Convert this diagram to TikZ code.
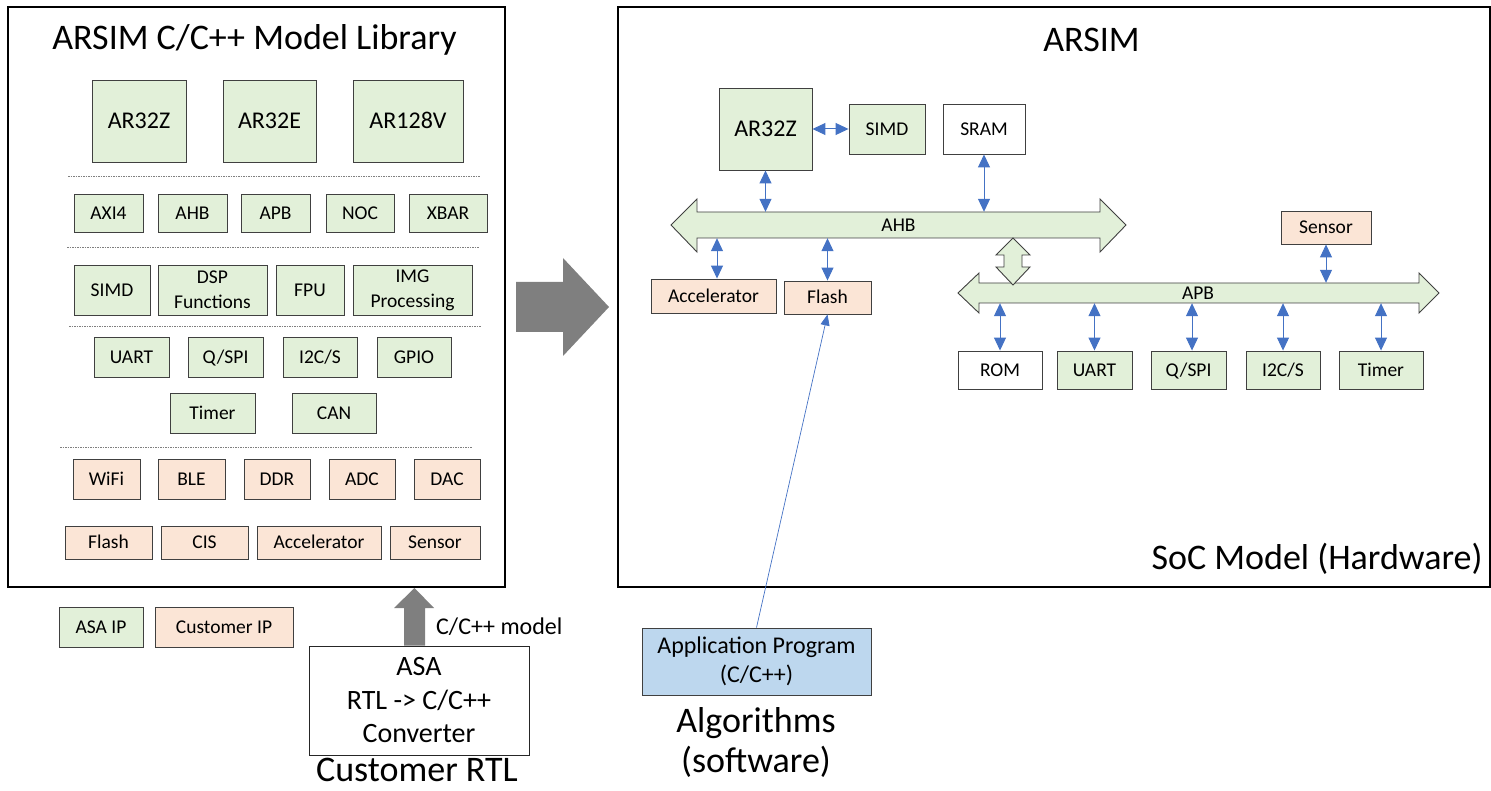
\documentclass[tikz,border=0pt]{standalone}
\usepackage{fontspec}
\setmainfont{Carlito}
\usetikzlibrary{arrows.meta,calc}
\definecolor{gfill}{HTML}{E2F0D9}
\definecolor{pfill}{HTML}{FBE5D6}
\definecolor{bfill}{HTML}{BDD7EE}
\definecolor{barrow}{HTML}{4472C4}
\definecolor{garrow}{HTML}{7F7F7F}
\definecolor{bord}{HTML}{404040}
\newcommand\mybox[7]{\node[#1, minimum width={(#5-#3)*1pt}, minimum height={(#6-#4)*1pt}] (#2) at ({(#3+#5)/2},{(#4+#6)/2}) {#7};}
\begin{document}
\begin{tikzpicture}[x=1pt,y=-1pt,
  boxb/.style={draw=bord, line width=0.9pt, inner sep=0pt, align=center, font=\fontsize{19.5}{25}\selectfont},
  oneline/.style={text height=12.6pt, text depth=0pt},
  gbox/.style={boxb, oneline, fill=gfill},
  pbox/.style={boxb, oneline, fill=pfill},
  wbox/.style={boxb, oneline, fill=white},
  gboxm/.style={boxb, fill=gfill},
  bigl/.style={font=\fontsize{24}{29}\selectfont, text height=15.5pt, text depth=0pt},
  busshape/.style={draw=bord, line width=0.9pt, fill=gfill},
  buslabel/.style={inner sep=0pt, font=\fontsize{19.5}{25}\selectfont, text height=12.6pt, text depth=0pt},
  conn/.style={draw=barrow, line width=1pt, arrows={Triangle[length=13pt,width=12pt]-Triangle[length=13pt,width=12pt]}},
  heading/.style={font=\fontsize{36}{40}\selectfont, inner sep=0pt, text height=23.2pt, text depth=0pt},
  dashsep/.style={draw=garrow, line width=0.7pt, dash pattern=on 1.5pt off 1pt},
  bigframe/.style={draw=black, line width=2pt, inner sep=0pt},
]
\useasboundingbox (0,0) rectangle (1491,791);

% ---------- left: model library ----------
\mybox{bigframe}{lib}{8}{7}{505}{587}{}
\node[heading] (libtitle) at (254.5,38) {ARSIM C/C++ Model Library};

\mybox{gbox,bigl}{lar32z}{92}{80}{186}{162}{AR32Z}
\mybox{gbox,bigl}{lar32e}{223}{80}{316}{162}{AR32E}
\mybox{gbox,bigl}{lar128v}{353}{80}{463}{162}{AR128V}
\draw[dashsep] (68,176) -- (480,176);

\mybox{gbox}{laxi}{74}{194}{143}{232}{AXI4}
\mybox{gbox}{lahb}{158}{194}{227}{232}{AHB}
\mybox{gbox}{lapb}{241}{194}{310}{232}{APB}
\mybox{gbox}{lnoc}{326}{194}{394}{232}{NOC}
\mybox{gbox}{lxbar}{409}{194}{487}{232}{XBAR}
\draw[dashsep] (67,247) -- (479,247);

\mybox{gbox}{lsimd}{74}{265}{150}{315}{SIMD}
\mybox{gboxm}{ldsp}{158}{265}{267}{315}{DSP\\Functions}
\mybox{gbox}{lfpu}{276}{265}{344}{315}{FPU}
\mybox{gboxm}{limg}{353}{265}{472}{315}{IMG\\Processing}
\draw[dashsep] (69,326) -- (481,326);

\mybox{gbox}{luart}{94}{337}{169}{377}{UART}
\mybox{gbox}{lqspi}{188}{337}{263}{377}{Q/SPI}
\mybox{gbox}{li2c}{283}{337}{357}{377}{I2C/S}
\mybox{gbox}{lgpio}{377}{337}{451}{377}{GPIO}
\mybox{gbox}{ltimer}{170}{393}{255}{433}{Timer}
\mybox{gbox}{lcan}{292}{393}{376}{433}{CAN}
\draw[dashsep] (60,447) -- (472,447);

\mybox{pbox}{lwifi}{73}{459}{140}{499}{WiFi}
\mybox{pbox}{lble}{158}{459}{225}{499}{BLE}
\mybox{pbox}{lddr}{244}{459}{310}{499}{DDR}
\mybox{pbox}{ladc}{329}{459}{395}{499}{ADC}
\mybox{pbox}{ldac}{414}{459}{480}{499}{DAC}

\mybox{pbox}{lflash}{65}{526}{152}{559}{Flash}
\mybox{pbox}{lcis}{161}{526}{248}{559}{CIS}
\mybox{pbox}{lacc}{257}{526}{381}{559}{Accelerator}
\mybox{pbox}{lsensor}{390}{526}{480}{559}{Sensor}

% legend
\mybox{gbox}{asaip}{59}{607}{143}{647}{ASA IP}
\mybox{pbox}{custip}{155}{607}{293}{647}{Customer IP}

% converter
\mybox{boxb, fill=white, draw=black!85, font=\fontsize{28}{33.5}\selectfont}{conv}{309}{646}{529}{755}{ASA\\RTL -> C/C++\\Converter}
\fill[garrow] ($(conv.north)+(-15,0)$) -- ($(conv.north)+(6,0)$)
  -- ($(conv.north |- lib.south)+(6,20)$) -- ($(conv.north |- lib.south)+(15,20)$)
  -- ($(conv.north |- lib.south)+(-4.5,0)$) -- ($(conv.north |- lib.south)+(-25,20)$)
  -- ($(conv.north |- lib.south)+(-15,20)$) -- cycle;
\node[anchor=west, inner sep=0pt, font=\fontsize{24}{29}\selectfont, text height=15.5pt, text depth=0pt] (cmodel) at (436,627) {C/C++ model};
\node[heading] (custrtl) at (417,770) {Customer RTL};

% big arrow between panels
\fill[garrow] (516,282) -- (563,282) -- (563,258) -- (609,307) -- (563,356) -- (563,332) -- (516,332) -- cycle;

% ---------- right: SoC model ----------
\mybox{bigframe}{soc}{618}{7}{1490}{587}{}
\node[heading] (arsim) at (1091.5,40) {ARSIM};
\node[heading] (soclabel) at (1317,558) {SoC Model (Hardware)};

% buses
\draw[busshape] (671,225) -- (697,199) -- (697,212) -- (1100,212) -- (1100,199) -- (1126,225)
  -- (1100,252) -- (1100,238) -- (697,238) -- (697,252) -- cycle;
\draw[busshape] (958,293) -- (979,273) -- (979,283) -- (1419,283) -- (1419,273) -- (1439,293)
  -- (1419,313) -- (1419,303) -- (979,303) -- (979,313) -- cycle;
\draw[busshape] (1013,238) -- (1030,255) -- (1022,255) -- (1022,267) -- (1030,267) -- (1013,285)
  -- (996,267) -- (1004,267) -- (1004,255) -- (996,255) -- cycle;
\node[buslabel, minimum width=403pt, minimum height=26pt] (ahb) at (898.5,225) {AHB};
\node[buslabel, minimum width=440pt, minimum height=20pt] (apb) at (1198,293) {APB};

\mybox{gbox,bigl}{ar32z}{719}{88}{812}{170}{AR32Z}
\mybox{gbox}{simd}{849}{104}{925}{154}{SIMD}
\mybox{wbox}{sram}{943}{104}{1025}{154}{SRAM}
\mybox{pbox}{acc}{651}{279}{776}{313}{Accelerator}
\mybox{pbox}{flash}{784}{281}{871}{314}{Flash}
\mybox{pbox}{sensor}{1281}{211}{1371}{244}{Sensor}
\mybox{wbox}{rom}{958}{351}{1042}{389}{ROM}
\mybox{gbox}{uart}{1057}{351}{1132}{389}{UART}
\mybox{gbox}{qspi}{1151}{351}{1226}{389}{Q/SPI}
\mybox{gbox}{i2c}{1246}{351}{1320}{389}{I2C/S}
\mybox{gbox}{timer}{1339}{351}{1423}{389}{Timer}

\draw[conn] (ar32z.east) -- (simd.west);
\draw[conn] (ar32z.south) -- (ar32z.south |- ahb.north);
\draw[conn] (sram.south) -- (sram.south |- ahb.north);
\draw[conn] ([xshift=3.5pt]acc.north) -- ([xshift=3.5pt]acc.north |- ahb.south);
\draw[conn] (flash.north) -- (flash.north |- ahb.south);
\draw[conn] (sensor.south) -- (sensor.south |- apb.north);
\draw[conn] (rom.north) -- (rom.north |- apb.south);
\draw[conn] (uart.north) -- (uart.north |- apb.south);
\draw[conn] ([xshift=3.5pt]qspi.north) -- ([xshift=3.5pt]qspi.north |- apb.south);
\draw[conn] (i2c.north) -- (i2c.north |- apb.south);
\draw[conn] (timer.north) -- (timer.north |- apb.south);

% software
\mybox{boxb, fill=bfill, font=\fontsize{24}{29}\selectfont}{app}{642}{628}{871}{695}{Application Program\\(C/C++)}
\draw[draw=barrow, line width=0.7pt, -{Triangle[length=11pt,width=9pt]}] (app.north) -- (flash.south);
\node[inner sep=0pt, align=center, font=\fontsize{36}{40}\selectfont] (algo) at (756,742) {Algorithms\\(software)};
\end{tikzpicture}
\end{document}
